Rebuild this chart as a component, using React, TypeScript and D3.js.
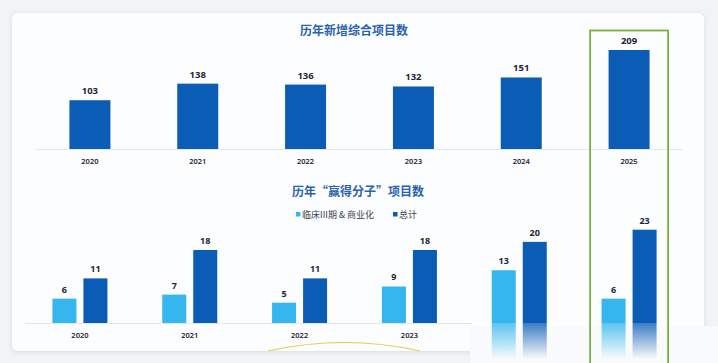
import React from "react";
import * as d3 from "d3";

// data
const years = ["2020", "2021", "2022", "2023", "2024", "2025"];
const newProjects = [103, 138, 136, 132, 151, 209];
const phase3Commercial = [6, 7, 5, 9, 13, 6];
const totalWins = [11, 18, 11, 18, 20, 23];
const seriesNames = ["临床III期 & 商业化", "总计"];
const reflectedYears = ["2024", "2025"];

const W = 718;
const H = 363;
const DARK = "#0b5cb5";
const LIGHT = "#35b6ee";
const TITLE = "#2b62ad";
const TEXT = "#1e2538";
const CJK = "'Noto Sans CJK SC', 'Noto Sans', sans-serif";
const NUM = "'Noto Sans', 'DejaVu Sans', sans-serif";

export default function App() {
  // top chart scales
  const xTop = d3
    .scaleBand<string>()
    .domain(years)
    .range([36, 683])
    .paddingInner(0.62)
    .paddingOuter(0.31);
  const yTop = d3.scaleLinear().domain([0, 209]).range([149, 50]);

  // bottom chart scales
  const xBot = d3.scaleBand<string>().domain(years).range([25, 684]);
  const xSub = d3
    .scaleBand<string>()
    .domain(seriesNames)
    .range([-27.5, 27.5])
    .paddingInner(0.226);
  const yBot = d3.scaleLinear().domain([0, 23]).range([323, 229.7]);

  const botBase = yBot(0);
  const colors = [LIGHT, DARK];
  const series = [phase3Commercial, totalWins];

  const hlX = (xTop("2025") ?? 0) + xTop.bandwidth() / 2;

  const arc = d3.path();
  arc.moveTo(268, 351);
  arc.quadraticCurveTo(345, 334, 420, 351);

  return (
    <div style={{ position: "fixed", left: 0, top: 0 }}>
      <svg width={W} height={H} style={{ display: "block" }}>
        <defs>
          <filter id="shadow" x="-5%" y="-5%" width="110%" height="110%">
            <feDropShadow dx="0" dy="1" stdDeviation="2.5" floodColor="#9aa6b8" floodOpacity="0.3" />
          </filter>
          {colors.map((c, i) => (
            <linearGradient key={i} id={`refl${i}`} x1="0" y1="0" x2="0" y2="1">
              <stop offset="0" stopColor={c} stopOpacity={0.8} />
              <stop offset="1" stopColor={c} stopOpacity={0} />
            </linearGradient>
          ))}
        </defs>
        <rect width={W} height={H} fill="#f1f3f6" />
        <rect x={12} y={13} width={692} height={338} rx={6} fill="#fcfdfe" filter="url(#shadow)" />
        <rect x={470} y={326} width={248} height={37} fill="#f9fafc" />

        {/* top chart */}
        <text x={354} y={35} textAnchor="middle" fontFamily={CJK} fontWeight={700} fontSize={12} fill={TITLE}>
          历年新增综合项目数
        </text>
        <line x1={36} x2={683} y1={yTop(0) + 0.5} y2={yTop(0) + 0.5} stroke="#e3e7ee" />
        {years.map((yr, i) => {
          const x = xTop(yr) ?? 0;
          const cx = x + xTop.bandwidth() / 2;
          return (
            <g key={yr}>
              <rect x={x} y={yTop(newProjects[i])} width={xTop.bandwidth()} height={yTop(0) - yTop(newProjects[i])} fill={DARK} />
              <text x={cx} y={yTop(newProjects[i]) - 6} textAnchor="middle" fontFamily={NUM} fontWeight={700} fontSize={9.5} fill={TEXT}>
                {newProjects[i]}
              </text>
              <text x={cx} y={164} textAnchor="middle" fontFamily={NUM} fontWeight={600} fontSize={7.5} fill={TEXT}>
                {yr}
              </text>
            </g>
          );
        })}

        {/* bottom chart */}
        <text x={358} y={196} textAnchor="middle" fontFamily={CJK} fontWeight={700} fontSize={12} fill={TITLE}>
          历年“赢得分子”项目数
        </text>
        <g fontFamily={CJK} fontSize={9} fill="#3a3f4c">
          <rect x={296} y={212} width={4.5} height={4.5} fill={LIGHT} />
          <text x={302} y={217.5}>{seriesNames[0]}</text>
          <rect x={393} y={212} width={4.5} height={4.5} fill={DARK} />
          <text x={399} y={217.5}>{seriesNames[1]}</text>
        </g>
        <line x1={25} x2={472} y1={botBase + 0.5} y2={botBase + 0.5} stroke="#e3e7ee" />
        {years.map((yr, i) => {
          const gx = (xBot(yr) ?? 0) + xBot.bandwidth() / 2;
          const reflect = reflectedYears.includes(yr);
          return (
            <g key={yr} transform={`translate(${gx},0)`}>
              {seriesNames.map((s, k) => {
                const v = series[k][i];
                const x = xSub(s) ?? 0;
                return (
                  <g key={s}>
                    <rect x={x} y={yBot(v)} width={xSub.bandwidth()} height={botBase - yBot(v)} fill={colors[k]} />
                    {reflect && (
                      <rect x={x} y={botBase} width={xSub.bandwidth()} height={36} fill={`url(#refl${k})`} />
                    )}
                    <text x={x + xSub.bandwidth() / 2} y={yBot(v) - 6} textAnchor="middle" fontFamily={NUM} fontWeight={700} fontSize={9} fill={TEXT}>
                      {v}
                    </text>
                  </g>
                );
              })}
              {!reflect && (
                <text x={0} y={338} textAnchor="middle" fontFamily={NUM} fontWeight={600} fontSize={7.5} fill={TEXT}>
                  {yr}
                </text>
              )}
            </g>
          );
        })}

        <path d={arc.toString()} fill="none" stroke="#e8c94a" strokeWidth={1.2} />

        {/* highlight frame around 2025 */}
        <rect x={hlX - 39} y={30.5} width={78} height={H} fill="none" stroke="#78b23f" strokeWidth={1.8} />
      </svg>
    </div>
  );
}
